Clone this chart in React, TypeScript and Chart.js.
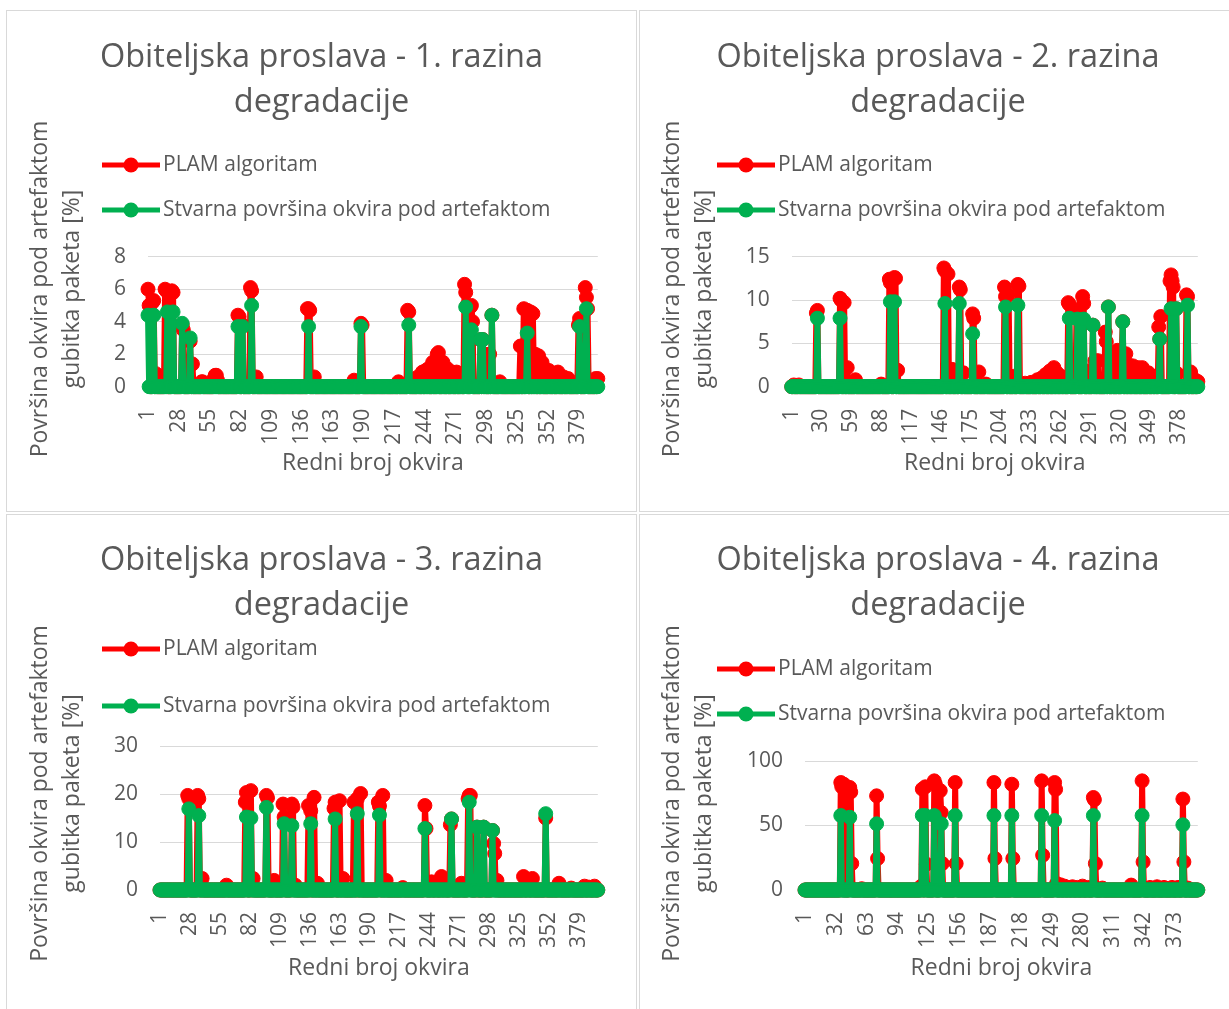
import React, { useEffect, useRef } from 'react';
import { Chart, registerables } from 'chart.js';

Chart.register(...registerables);

const FONT = "'Open Sans', 'Noto Sans', sans-serif";
const TEXT = '#595959';
const GRID = '#D9D9D9';
const RED = '#FF0000';
const GREEN = '#00B050';

// ---------- data ----------
const N_FRAMES = 396;
const frameLabels: string[] = Array.from({ length: N_FRAMES }, (_, i) => String(i + 1));

const seriesNames = ['PLAM algoritam', 'Stvarna površina okvira pod artefaktom'];
const yTitleLines = ['Površina okvira pod artefaktom', 'gubitka paketa [%]'];
const xTitleText = 'Redni broj okvira';

const chartTitles: string[][] = [
  ['Obiteljska proslava - 1. razina', 'degradacije'],
  ['Obiteljska proslava - 2. razina', 'degradacije'],
  ['Obiteljska proslava - 3. razina', 'degradacije'],
  ['Obiteljska proslava - 4. razina', 'degradacije'],
];
const xLabelSteps = [27, 29, 27, 31];
const yMaxValues = [8, 15, 30, 100];
const yStepValues = [2, 5, 10, 50];

// [frame, value] pairs; all other frames are 0
const plam1: [number, number][] = [
  [1, 6.0], [2, 5.0], [5, 5.2], [6, 5.3], [8, 0.8], [16, 6.0], [17, 5.9], [22, 5.9], [23, 5.8],
  [31, 3.8], [32, 3.5], [38, 2.8], [40, 1.4], [48, 0.3], [49, 0.3], [59, 0.5], [60, 0.7], [61, 0.7],
  [62, 0.4], [80, 4.4], [81, 4.3], [84, 3.8], [91, 6.1], [92, 5.9], [96, 0.6], [141, 4.8], [142, 4.8],
  [143, 4.7], [147, 0.6], [182, 0.4], [188, 3.9], [189, 3.8], [221, 0.3], [229, 4.7], [230, 4.6],
  [238, 0.6], [242, 0.9], [245, 1.0], [247, 1.1], [251, 1.5], [255, 2.0], [256, 2.1], [260, 1.5],
  [264, 1.1], [268, 0.9], [272, 0.9], [276, 0.7], [279, 6.3], [280, 5.8], [281, 5.0], [284, 4.9],
  [285, 5.0], [286, 4.0], [293, 2.9], [295, 2.9], [297, 2.0], [301, 2.0], [303, 4.4], [310, 0.3],
  [328, 2.5], [331, 4.8], [333, 4.7], [334, 4.7], [337, 4.6], [339, 4.5], [341, 2.0], [344, 1.9],
  [347, 1.5], [353, 1.0], [357, 0.8], [361, 0.9], [366, 0.6], [370, 0.5], [379, 3.8], [380, 4.2],
  [385, 6.1], [386, 5.5], [387, 4.8], [394, 0.5], [396, 0.5],
];
const real1: [number, number][] = [
  [1, 4.4], [6, 4.4], [18, 4.6], [23, 4.6], [31, 3.9], [38, 3.0], [80, 3.7], [84, 3.7], [92, 5.0],
  [142, 3.7], [188, 3.7], [230, 3.8], [280, 4.9], [285, 3.5], [293, 2.9], [295, 2.9], [303, 4.4],
  [334, 3.3], [380, 3.7], [386, 4.8],
];

const plam2: [number, number][] = [
  [3, 0.2], [8, 0.2], [25, 8.5], [26, 8.8], [48, 10.2], [49, 10.0], [52, 9.7], [55, 2.2], [63, 0.8],
  [88, 0.3], [96, 12.4], [97, 12.0], [101, 12.6], [102, 12.5], [104, 1.9], [149, 13.7], [150, 13.4],
  [153, 13.0], [157, 2.0], [161, 1.8], [164, 11.5], [165, 11.2], [168, 1.6], [177, 8.4], [178, 7.9],
  [183, 1.7], [190, 0.3], [208, 11.5], [209, 10.4], [212, 10.6], [217, 1.2], [221, 11.8], [222, 11.6],
  [228, 0.4], [234, 0.5], [240, 0.8], [244, 1.0], [248, 1.4], [252, 1.8], [256, 2.2], [259, 1.6],
  [263, 1.2], [266, 0.6], [270, 9.7], [271, 9.5], [278, 8.4], [279, 8.8], [284, 10.4], [285, 9.6],
  [289, 1.8], [294, 7.1], [296, 3.0], [299, 3.0], [306, 6.3], [307, 5.2], [309, 9.2], [313, 3.0],
  [318, 4.2], [322, 3.9], [323, 7.5], [326, 3.8], [329, 2.5], [333, 2.4], [338, 2.2], [342, 2.2],
  [348, 1.6], [352, 1.2], [355, 0.9], [358, 6.9], [359, 5.5], [360, 8.1], [369, 12.2], [370, 12.9],
  [371, 12.2], [372, 11.5], [375, 9.0], [376, 1.5], [385, 10.6], [386, 10.4], [389, 1.7], [393, 0.8],
  [396, 0.6],
];
const real2: [number, number][] = [
  [26, 7.9], [48, 7.9], [97, 9.8], [101, 9.8], [150, 9.6], [164, 9.6], [177, 6.1], [209, 9.2],
  [221, 9.4], [271, 7.9], [279, 7.8], [285, 7.8], [294, 7.1], [309, 9.2], [323, 7.5], [359, 5.5],
  [370, 9.0], [375, 9.0], [386, 9.4],
];

const plam3: [number, number][] = [
  [26, 19.7], [27, 19.0], [35, 19.7], [36, 19.0], [39, 2.4], [61, 1.0], [78, 18.3], [79, 20.3],
  [83, 20.7], [85, 2.4], [97, 19.7], [98, 19.2], [104, 2.0], [112, 17.9], [113, 15.2], [120, 17.9],
  [121, 17.3], [123, 1.0], [135, 17.6], [137, 16.5], [140, 19.3], [143, 1.4], [158, 17.0], [159, 18.3],
  [163, 18.6], [166, 2.4], [176, 18.3], [179, 19.0], [182, 20.1], [198, 18.3], [199, 17.5], [202, 19.7],
  [205, 2.0], [220, 0.5], [240, 17.6], [241, 12.8], [246, 1.7], [250, 1.2], [255, 2.8], [258, 1.0],
  [263, 13.6], [264, 14.8], [273, 1.4], [279, 19.0], [280, 19.7], [281, 19.7], [287, 13.1], [293, 13.1],
  [301, 12.4], [302, 9.7], [303, 7.6], [305, 2.0], [329, 2.8], [333, 1.5], [337, 2.4], [349, 15.0],
  [361, 1.4], [372, 0.4], [384, 0.8], [388, 0.6], [393, 0.8],
];
const real3: [number, number][] = [
  [27, 16.9], [36, 15.5], [79, 15.2], [83, 15.0], [97, 17.2], [113, 13.8], [120, 13.4], [137, 13.8],
  [159, 14.8], [179, 15.9], [199, 15.6], [240, 12.8], [264, 14.8], [280, 18.3], [287, 13.1],
  [293, 13.1], [301, 12.4], [349, 15.9],
];

const plam4: [number, number][] = [
  [37, 83.3], [38, 80.0], [40, 82.0], [46, 79.5], [47, 76.0], [48, 20.5], [58, 1.0], [73, 73.0],
  [74, 24.4], [118, 3.0], [119, 78.2], [122, 80.0], [123, 20.0], [131, 84.6], [132, 82.0], [137, 77.0],
  [138, 60.0], [139, 20.5], [152, 83.3], [153, 20.5], [191, 83.3], [192, 24.4], [209, 82.0], [210, 24.4],
  [239, 84.6], [240, 26.9], [252, 83.3], [253, 78.0], [254, 5.0], [258, 4.0], [262, 3.0], [266, 2.0],
  [270, 2.5], [275, 2.0], [280, 3.0], [285, 2.0], [291, 71.7], [292, 70.0], [293, 20.5], [300, 1.5],
  [329, 3.8], [340, 84.6], [341, 21.8], [348, 2.0], [355, 2.5], [362, 2.0], [370, 2.0], [376, 2.0],
  [381, 70.5], [382, 21.8], [386, 1.5],
];
const real4: [number, number][] = [
  [37, 57.7], [46, 56.4], [73, 51.3], [119, 57.7], [122, 57.7], [131, 57.7], [138, 51.3], [152, 57.7],
  [191, 57.7], [209, 57.7], [239, 57.7], [252, 53.8], [291, 57.7], [340, 57.7], [381, 50.5],
];

const plamSeries = [plam1, plam2, plam3, plam4];
const realSeries = [real1, real2, real3, real4];

function toSeries(pairs: [number, number][]): number[] {
  const arr: number[] = new Array(N_FRAMES).fill(0);
  pairs.forEach(([f, v]) => {
    if (f >= 1 && f <= N_FRAMES) arr[f - 1] = v;
  });
  return arr;
}

// ---------- layout (positions / styles) ----------
type PanelLayout = {
  left: number; top: number; width: number; height: number;
  pad: number; padBottom: number; yAxisW: number; xAxisH: number;
  titleTop: number; titleBottom: number;
  legendText: number; legendRow: number; legendPad: number;
  yTitleX: number[]; yTitleY: number;
};

const panelLayouts: PanelLayout[] = [
  { left: 6, top: 10, width: 631, height: 502, pad: 30, padBottom: 33, yAxisW: 112, xAxisH: 92.3,
    titleTop: 25, titleBottom: 130.7, legendText: 157, legendRow: 155, legendPad: 24, yTitleX: [34, 66], yTitleY: 279 },
  { left: 639, top: 10, width: 598, height: 502, pad: 30, padBottom: 33, yAxisW: 122.7, xAxisH: 92.3,
    titleTop: 25, titleBottom: 130.7, legendText: 139, legendRow: 155, legendPad: 24, yTitleX: [33, 65], yTitleY: 279 },
  { left: 6, top: 514, width: 631, height: 502, pad: 29, padBottom: 32, yAxisW: 125, xAxisH: 94,
    titleTop: 24, titleBottom: 117, legendText: 157, legendRow: 135, legendPad: 36, yTitleX: [34, 66], yTitleY: 279.5 },
  { left: 639, top: 514, width: 598, height: 502, pad: 30, padBottom: 32, yAxisW: 136, xAxisH: 94,
    titleTop: 24, titleBottom: 132, legendText: 139, legendRow: 155, legendPad: 24, yTitleX: [33, 65], yTitleY: 279.5 },
];

const TITLE_SIZE = 32.5;
const LEGEND_SIZE = 21;
const TICK_SIZE = 21;
const AXIS_TITLE_SIZE = 23;
const LEGEND_ICON_SLOT = 43;

function makeLegendIcon(color: string): HTMLCanvasElement {
  const c = document.createElement('canvas');
  c.width = 58;
  c.height = 16;
  const g = c.getContext('2d')!;
  g.strokeStyle = color;
  g.lineWidth = 5;
  g.beginPath();
  g.moveTo(0, 8);
  g.lineTo(58, 8);
  g.stroke();
  g.fillStyle = color;
  g.beginPath();
  g.arc(29, 8, 7.5, 0, Math.PI * 2);
  g.fill();
  return c;
}

function ChartPanel({ idx }: { idx: number }) {
  const ref = useRef<HTMLCanvasElement | null>(null);
  const L = panelLayouts[idx];

  useEffect(() => {
    if (!ref.current) return;
    const icons = [makeLegendIcon(RED), makeLegendIcon(GREEN)];
    const step = xLabelSteps[idx];

    const legendPlace = {
      id: 'legendPlace',
      afterLayout(chart: any) {
        const lg = chart.legend;
        if (!lg) return;
        const P = L.legendPad;
        lg.left = L.legendText - LEGEND_SIZE / 2 - LEGEND_ICON_SLOT - P;
        lg.top = L.legendRow - P - LEGEND_SIZE / 2;
        lg.right = chart.width;
        lg.bottom = lg.top + 2 * (LEGEND_SIZE + P) + 20;
        lg.width = lg.right - lg.left;
        lg.height = lg.bottom - lg.top;
      },
    };

    const yTitle = {
      id: 'yTitleDraw',
      afterDraw(chart: any) {
        const ctx = chart.ctx;
        ctx.save();
        ctx.fillStyle = TEXT;
        ctx.font = `${AXIS_TITLE_SIZE}px ${FONT}`;
        ctx.textAlign = 'center';
        ctx.textBaseline = 'middle';
        yTitleLines.forEach((t, i) => {
          ctx.save();
          ctx.translate(L.yTitleX[i], L.yTitleY);
          ctx.rotate(-Math.PI / 2);
          ctx.fillText(t, 0, 0);
          ctx.restore();
        });
        ctx.restore();
      },
    };

    const common = {
      borderWidth: 6,
      pointRadius: 7,
      pointBorderWidth: 1,
      pointHoverRadius: 7,
      tension: 0,
      clip: false as any,
      borderJoinStyle: 'round' as const,
    };

    const chart = new Chart(ref.current, {
      type: 'line',
      data: {
        labels: frameLabels,
        datasets: [
          {
            ...common,
            label: seriesNames[0],
            data: toSeries(plamSeries[idx]),
            borderColor: RED,
            backgroundColor: RED,
            pointBackgroundColor: RED,
            pointBorderColor: RED,
            order: 2,
          },
          {
            ...common,
            label: seriesNames[1],
            data: toSeries(realSeries[idx]),
            borderColor: GREEN,
            backgroundColor: GREEN,
            pointBackgroundColor: GREEN,
            pointBorderColor: GREEN,
            order: 1,
          },
        ],
      },
      options: {
        responsive: false,
        maintainAspectRatio: false,
        animation: false,
        events: [],
        layout: { padding: { left: L.pad, right: L.pad, top: 0, bottom: L.padBottom } },
        plugins: {
          tooltip: { enabled: false },
          title: {
            display: true,
            text: chartTitles[idx],
            color: TEXT,
            font: { family: FONT, size: TITLE_SIZE, weight: 'normal', lineHeight: 45 / TITLE_SIZE },
            padding: { top: L.titleTop, bottom: L.titleBottom },
          },
          legend: {
            display: true,
            position: 'top',
            align: 'start',
            maxHeight: 1,
            labels: {
              color: TEXT,
              font: { family: FONT, size: LEGEND_SIZE },
              usePointStyle: true,
              pointStyleWidth: LEGEND_ICON_SLOT,
              padding: L.legendPad,
              sort: (a: any, b: any) => a.datasetIndex - b.datasetIndex,
              generateLabels: (chart: any) => {
                const items = (Chart.defaults.plugins.legend.labels as any).generateLabels(chart);
                return items.map((it: any) => ({ ...it, pointStyle: icons[it.datasetIndex] }));
              },
            },
          },
        },
        scales: {
          x: {
            type: 'category',
            offset: false,
            grid: { display: false },
            border: { display: true, color: GRID },
            ticks: {
              autoSkip: false,
              maxRotation: 90,
              minRotation: 90,
              padding: 14,
              color: TEXT,
              font: { family: FONT, size: TICK_SIZE },
              callback: (_v: any, index: number) => (index % step === 0 ? frameLabels[index] : ''),
            },
            title: {
              display: true,
              text: xTitleText,
              color: TEXT,
              font: { family: FONT, size: AXIS_TITLE_SIZE, lineHeight: 32 / AXIS_TITLE_SIZE },
              padding: { top: 0, bottom: 0 },
            },
            afterFit: (s: any) => { s.height = L.xAxisH; },
          },
          y: {
            min: 0,
            max: yMaxValues[idx],
            grid: { color: GRID, lineWidth: 1, drawTicks: false },
            border: { display: false },
            ticks: {
              stepSize: yStepValues[idx],
              padding: 22,
              color: TEXT,
              font: { family: FONT, size: TICK_SIZE },
            },
            afterFit: (s: any) => { s.width = L.yAxisW; },
          },
        },
      } as any,
      plugins: [legendPlace, yTitle],
    });

    return () => { chart.destroy(); };
  }, [idx]);

  return (
    <div style={{ position: 'absolute', left: L.left, top: L.top, width: L.width, height: L.height, background: '#fff' }}>
      <canvas ref={ref} width={L.width} height={L.height} style={{ position: 'absolute', left: 0, top: 0 }} />
      <div style={{ position: 'absolute', left: 0, top: 0, width: L.width, height: L.height, boxSizing: 'border-box', border: `1px solid ${GRID}`, pointerEvents: 'none' }} />
    </div>
  );
}

export default function App() {
  return (
    <div style={{ position: 'fixed', left: 0, top: 0, width: 1229, height: 1009, overflow: 'hidden', background: '#fff' }}>
      {[0, 1, 2, 3].map((i) => (
        <ChartPanel key={i} idx={i} />
      ))}
    </div>
  );
}
